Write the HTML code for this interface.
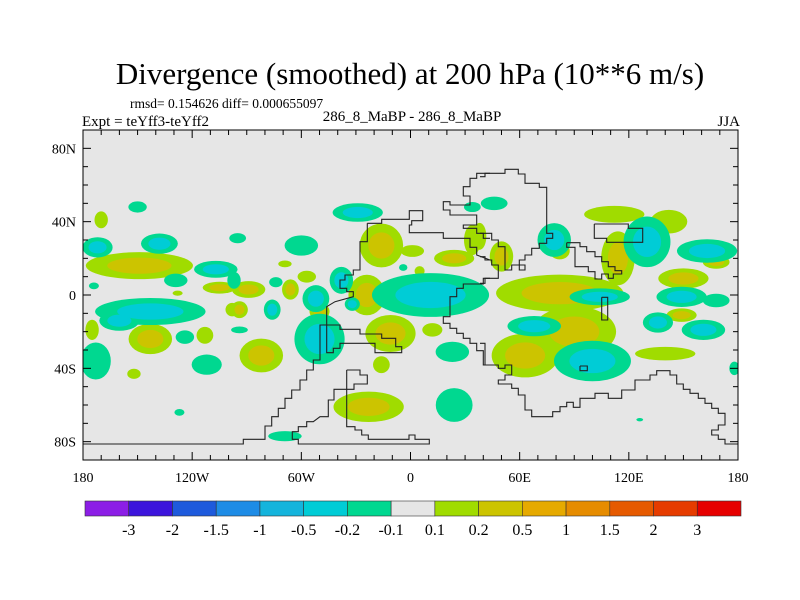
<!DOCTYPE html>
<html><head><meta charset="utf-8"><style>
body{margin:0;background:#fff;}
svg{display:block;font-family:"Liberation Serif",serif;}
</style></head><body>
<svg id="chart" width="800" height="600" viewBox="0 0 800 600" xmlns="http://www.w3.org/2000/svg">
<text x="410" y="84" font-size="31" text-anchor="middle">Divergence (smoothed) at 200 hPa (10**6 m/s)</text>
<text x="130" y="108" font-size="13.5">rmsd= 0.154626 diff= 0.000655097</text>
<text x="82" y="126" font-size="15">Expt = teYff3-teYff2</text>
<text x="412" y="121" font-size="15" text-anchor="middle">286_8_MaBP - 286_8_MaBP</text>
<text x="740" y="126" font-size="15" text-anchor="end">JJA</text>
<clipPath id="clip"><rect x="83" y="130" width="655" height="330"/></clipPath>
<rect x="83" y="130" width="655" height="330" fill="#e6e6e6"/>
<g id="fields" clip-path="url(#clip)"></g>
<g id="coast" clip-path="url(#clip)"></g>
<rect x="83" y="130" width="655" height="330" fill="none" stroke="#000" stroke-width="1"/>
<g id="axes"></g>
<g id="colorbar"></g>
</svg>
<script>
// ---- data ----
const blobLon = [-150,-172,-138,-174,-129,-143,-160,-107,-173,-112,-124,-127,-29,-60,-95,-38,-52,-50,-76,-74,-32,-97,-94,23,24,-69,11,-4,34,46,79,130,163,104,68,100,149,136,161,168,178,126];
const blobLat = [48,26,28,5,8,-9,-14,14,-36,-38,-23,-64,45,27,31,8,-2,-24,-8,7,-5,8,-19,-31,-60,-77,0,15,48,50,30,29,24,-1,-17,-36,-1,-15,-19,-3,-40,-68];
const blobRx  = [5.5,9,11,3,7,33,12,13,9,9,5.5,3,15,10,5,7,8,15,5,4,4.5,4,5,10,11,10,35,2.5,5,8,10,14,18,18,16,23,15,9,13,8,3,2];
const blobRy  = [3.3,6,6,2,4,8,6,5,11,6,4,2,5.5,6,3,8,8,15,6,3,4,5,2,6,10,3,13,2,3,4,10,15,7,5,6,12,6,6,6,4,4,1];
const blobCore= [0,1,1,0,0,1,1,1,0,0,0,0,1,0,0,1,1,1,1,0,1,0,0,0,0,0,1,0,0,0,1,1,1,1,1,1,1,1,1,0,0,0];

const posLon = [-170,-149,-128,-175,-143,-113,-152,-105,-98,-89,-94,-82,-69,-66,-57,-50,-16,-24,-11,-23,-16,1,24,5,12,34,38,50,82,112,114,82,90,63,150,168,149,142,140];
const posLat = [41,16,1,-19,-24,-22,-43,4,-8,3,-8,-33,17,3,10,-9,27,0,-21,-61,-38,24,20,13,-19,30,32,21,24,44,20,1,-20,-33,9,18,-11,40,-32];
const posRx  = [4,32,3,4,13,5,4,10,4,10,5,13,4,5,5.5,6,13,11,15,21,5,7,12,3,6,5,4,7,6,18,10,38,25,20,15,8,9,11,18];
const posRy  = [5,8,1.5,6,9,5,3,3.5,4,5,5,10,2,6,3.5,5,13,12,11,9,5,3.5,5,3,4,9,8,9,5,5,16,11,15,13,6,4,4,7,4];
const posCore= [0,1,0,0,1,0,0,1,0,1,1,1,0,1,0,1,1,1,1,1,0,0,1,0,0,0,0,1,0,0,1,1,1,1,1,1,1,0,0];

const levels = ["-3","-2","-1.5","-1","-0.5","-0.2","-0.1","0.1","0.2","0.5","1","1.5","2","3"];
const levelColors = ["#8c1ee6","#3c14dc","#1e5adc","#1e8ce6","#14b4dc","#00ccd6","#00d890","#e6e6e6","#a0dc00","#ccc400","#e6aa00","#e68c00","#e65a00","#e63c00","#e60000"];
const xTickLabels = ["180","120W","60W","0","60E","120E","180"];
const xTickLons = [-180,-120,-60,0,60,120,180];
const yTickLabels = ["80N","40N","0","40S","80S"];
const yTickLats = [80,40,0,-40,-80];

const coasts = [
 [230,160,[[412,190],[455,190],[455,178],[538,178],[538,152],[578,152],[578,182],[545,182],[545,195],[538,195],[538,218],[640,218],[640,235],[720,235],[720,262],[740,262],[740,285],[780,300]]],
 [230,160,[[412,190],[412,245],[390,245],[390,330],[370,330],[370,345],[345,345],[345,360],[330,360],[330,385],[350,385],[350,395],[370,395],[370,410],[315,425],[290,440],[290,578],[310,578],[310,565],[330,565],[330,550],[435,550],[435,578],[515,578],[515,560],[497,560],[497,535],[455,535],[455,522],[390,522],[390,508],[330,508],[330,495],[270,495],[270,600],[250,600],[250,630],[230,630],[230,660],[210,660],[210,690],[185,690],[185,715],[165,715],[165,745],[145,745],[145,770],[125,770],[125,798],[105,798],[105,838],[40,838],[40,852],[-440,852]]],
 [230,160,[[350,630],[390,630],[390,645],[412,645],[412,672],[372,672],[372,688],[312,688],[312,720],[295,720],[295,770],[270,770],[250,785],[230,785],[230,800],[205,800],[205,815],[187,815],[187,838],[205,838],[205,852],[598,852],[598,838],[555,838],[555,825],[537,825],[537,838],[415,838],[415,825],[395,825],[395,810],[375,810],[375,800],[350,800],[350,630]]],
 [230,160,[[780,40],[740,40],[740,55],[720,55],[720,80],[700,80],[700,108],[720,108],[720,135],[660,135],[660,125],[640,125],[640,150],[660,150],[660,165],[740,165],[740,195],[700,195],[700,205],[740,205],[740,220],[760,220],[760,235],[780,235]]],
 [230,160,[[780,355],[760,355],[760,372],[700,372],[700,385],[680,385],[680,410],[660,410],[660,470],[640,470],[640,490],[660,490],[660,505],[680,505],[680,520],[700,520],[700,535],[720,535],[720,550],[740,550],[740,572],[760,572],[760,615],[780,615]]],
 [480,160,[[0,50],[15,50],[15,40],[75,40],[75,28],[115,28],[115,42],[135,42],[135,70],[178,70],[178,82],[200,82],[200,220],[218,220],[218,235],[200,235],[200,250],[178,250],[178,265],[155,265],[155,285],[135,285],[135,300],[118,300],[118,330],[135,330],[135,315],[95,315],[95,330],[75,330],[75,260],[55,260],[55,240],[35,240],[35,220],[15,220],[0,220]]],
 [480,160,[[0,290],[15,290],[15,300],[35,300],[35,315],[55,315],[55,355],[15,355],[15,370],[0,370]]],
 [480,160,[[260,248],[300,248],[300,260],[320,260],[320,275],[345,275],[345,290],[365,290],[365,305],[385,305],[385,320],[405,320],[405,332],[425,332],[425,342],[400,342],[400,355],[385,355],[385,342],[365,342],[365,357],[345,357],[345,335],[325,335],[325,320],[285,320],[285,262],[260,262],[260,248]]],
 [480,160,[[343,192],[445,192],[445,205],[488,205],[488,247],[380,247],[380,235],[343,235],[343,192]]],
 [480,160,[[365,412],[383,412],[383,480],[365,480],[365,412]]],
 [480,160,[[300,618],[322,618],[322,632],[300,632],[300,618]]],
 [480,160,[[0,550],[15,550],[15,615],[55,615],[55,625],[75,625],[75,615],[95,615],[95,645],[75,645],[75,660],[55,660],[55,672],[95,672],[95,685],[115,685],[115,705],[135,705],[135,750],[155,750],[155,770],[218,770],[218,755],[240,755],[240,740],[260,740],[260,727],[280,727],[280,742],[300,742],[300,715],[345,715],[345,700],[385,700],[385,715],[425,715],[425,690],[465,690],[465,660],[510,660],[510,645],[530,645],[530,632],[570,632],[570,645],[590,645],[590,672],[610,672],[610,688],[630,688],[630,700],[655,700],[655,715],[675,715],[675,730],[695,730],[695,745],[715,745],[715,760],[735,760],[735,795],[715,795],[715,810],[695,810],[695,825],[715,825],[715,838],[735,838],[735,852],[785,852]]]
];

const X0=83, X1=738, Y0=130, Y1=460;
function xs(lon){return X0+(lon+180)/360*(X1-X0);}
function ys(lat){return Y0+(90-lat)/180*(Y1-Y0);}
const NS="http://www.w3.org/2000/svg";
function mk(tag,attrs,parent){const e=document.createElementNS(NS,tag);for(const k in attrs)e.setAttribute(k,attrs[k]);parent.appendChild(e);return e;}

const fields=document.getElementById('fields');
const SHRINK=0.92;
function drawBlobs(lon,lat,rx,ry,core,colOuter,colInner,name){
  for(let i=0;i<lon.length;i++){
    const e=mk('ellipse',{cx:xs(lon[i]),cy:ys(lat[i]),rx:SHRINK*rx[i]*(X1-X0)/360,ry:SHRINK*ry[i]*(Y1-Y0)/180,fill:colOuter},fields);
    
    
  }
  for(let i=0;i<lon.length;i++){
    if(!core[i])continue;
    const e=mk('ellipse',{cx:xs(lon[i]),cy:ys(lat[i]),rx:SHRINK*rx[i]*0.6*(X1-X0)/360,ry:SHRINK*ry[i]*0.6*(Y1-Y0)/180,fill:colInner},fields);
    
    
  }
}
drawBlobs(posLon,posLat,posRx,posRy,posCore,levelColors[8],levelColors[9],'divergence');
drawBlobs(blobLon,blobLat,blobRx,blobRy,blobCore,levelColors[6],levelColors[5],'convergence');

const coast=document.getElementById('coast');
coasts.forEach(c=>{
  const pts=c[2].map(p=>(c[0]+p[0]/3).toFixed(1)+','+(c[1]+p[1]/3).toFixed(1)).join(' ');
  const e=mk('polyline',{points:pts,fill:'none',stroke:'#222','stroke-width':1.1},coast);
  
  
});

const axes=document.getElementById('axes');
for(let lon=-180;lon<=180;lon+=10){
  const major=lon%60===0, len=major?8:5, x=xs(lon);
  mk('line',{x1:x,y1:Y1,x2:x,y2:Y1-len,stroke:'#000'},axes);
  mk('line',{x1:x,y1:Y0,x2:x,y2:Y0+len,stroke:'#000'},axes);
}
for(let lat=-90;lat<=90;lat+=10){
  const major=lat%40===0, len=major?8:5, y=ys(lat);
  mk('line',{x1:X0,y1:y,x2:X0+len,y2:y,stroke:'#000'},axes);
  mk('line',{x1:X1,y1:y,x2:X1-len,y2:y,stroke:'#000'},axes);
}
xTickLabels.forEach((t,i)=>{
  const e=mk('text',{x:xs(xTickLons[i]),y:482,'font-size':14,'text-anchor':'middle'},axes);
  e.textContent=t;
  
  
});
yTickLabels.forEach((t,i)=>{
  const e=mk('text',{x:76,y:ys(yTickLats[i])+5,'font-size':14,'text-anchor':'end'},axes);
  e.textContent=t;
  
  
});

const cb=document.getElementById('colorbar');
const CB0=85, CB1=741, CBW=(CB1-CB0)/levelColors.length;
levelColors.forEach((c,i)=>{
  const e=mk('rect',{x:CB0+i*CBW,y:501,width:CBW,height:15,fill:c,stroke:'#333','stroke-width':0.6},cb);
  
  
});
levels.forEach((t,i)=>{
  const e=mk('text',{x:CB0+(i+1)*CBW,y:535,'font-size':16,'text-anchor':'middle'},cb);
  e.textContent=t;
  
  
});
</script>
</body></html>
